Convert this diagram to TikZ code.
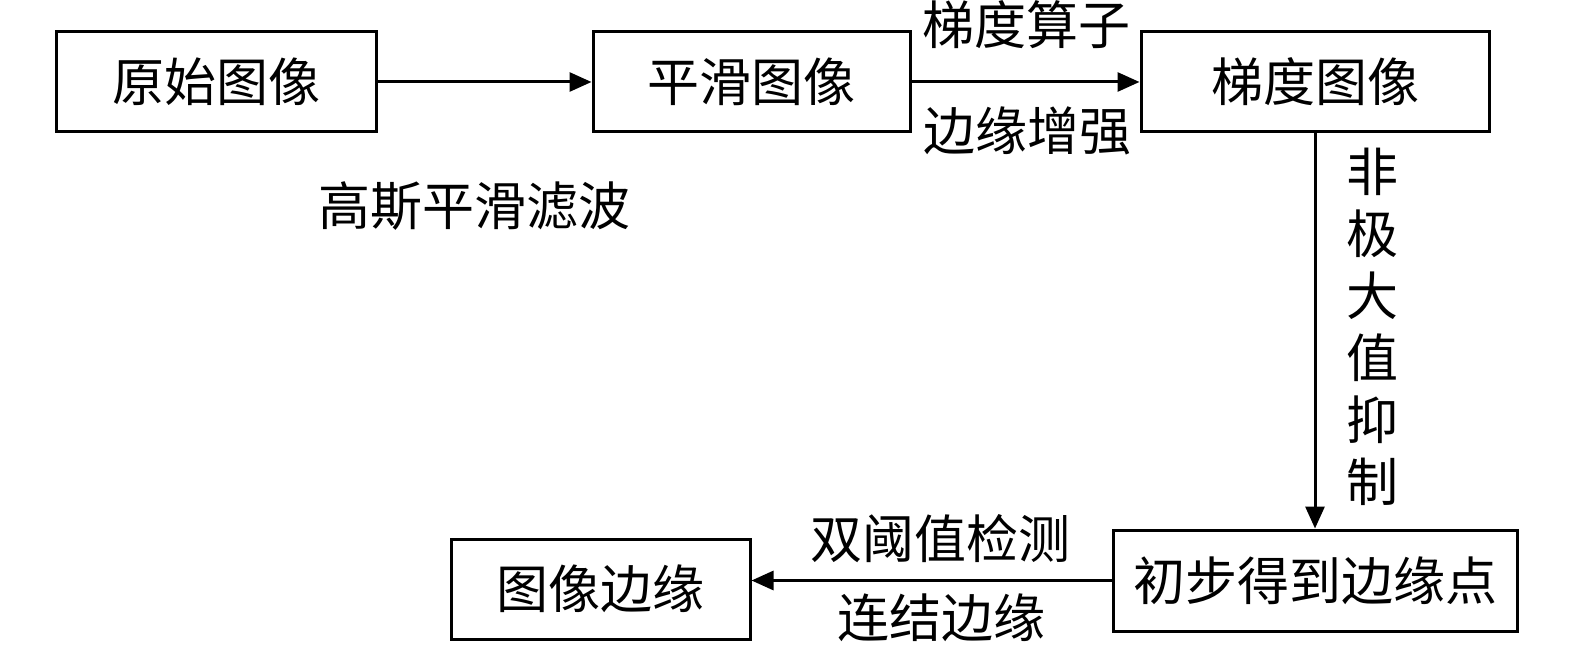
\documentclass[tikz,border=0pt]{standalone}
\usepackage{fontspec}
\newfontfamily\cjk{Noto Sans CJK SC}
\usetikzlibrary{arrows.meta}
\tikzset{
  box/.style={draw, line width=3pt, inner sep=0pt, font=\cjk\fontsize{52}{56}\selectfont},
  lbl/.style={inner sep=0pt, font=\cjk\fontsize{52}{56}\selectfont},
  conn/.style={line width=3pt, -{Triangle[length=22pt,width=19pt]}}
}
\begin{document}
\begin{tikzpicture}[x=1pt,y=-1pt]
\useasboundingbox (0,0) rectangle (1575,647);
\node[box, minimum width=320pt, minimum height=100pt] (b1) at (216,82) {原始图像};
\node[box, minimum width=317pt, minimum height=100pt] (b2) at (751.5,82) {平滑图像};
\node[box, minimum width=348pt, minimum height=100pt] (b3) at (1315,82) {梯度图像};
\node[box, minimum width=404pt, minimum height=101pt] (b4) at (1315,580.5) {初步得到边缘点};
\node[box, minimum width=299pt, minimum height=100pt] (b5) at (600.5,589) {图像边缘};
\draw[conn] (b1.east) -- (b2.west);
\draw[conn] (b2.east) -- (b3.west);
\draw[conn] (b3.south) -- (b4.north);
\draw[conn] (b4.west) -- (b4.west -| b5.east);
\node[lbl] (l1) at (474,206) {高斯平滑滤波};
\node[lbl] (l2) at (1026,25) {梯度算子};
\node[lbl] (l3) at (1027,131) {边缘增强};
\node[lbl, align=center, font=\cjk\fontsize{52}{62}\selectfont] (l4) at (1372,327) {非\\极\\大\\值\\抑\\制};
\node[lbl] (l5) at (940,539) {双阈值检测};
\node[lbl] (l6) at (941,618) {连结边缘};
\end{tikzpicture}
\end{document}
